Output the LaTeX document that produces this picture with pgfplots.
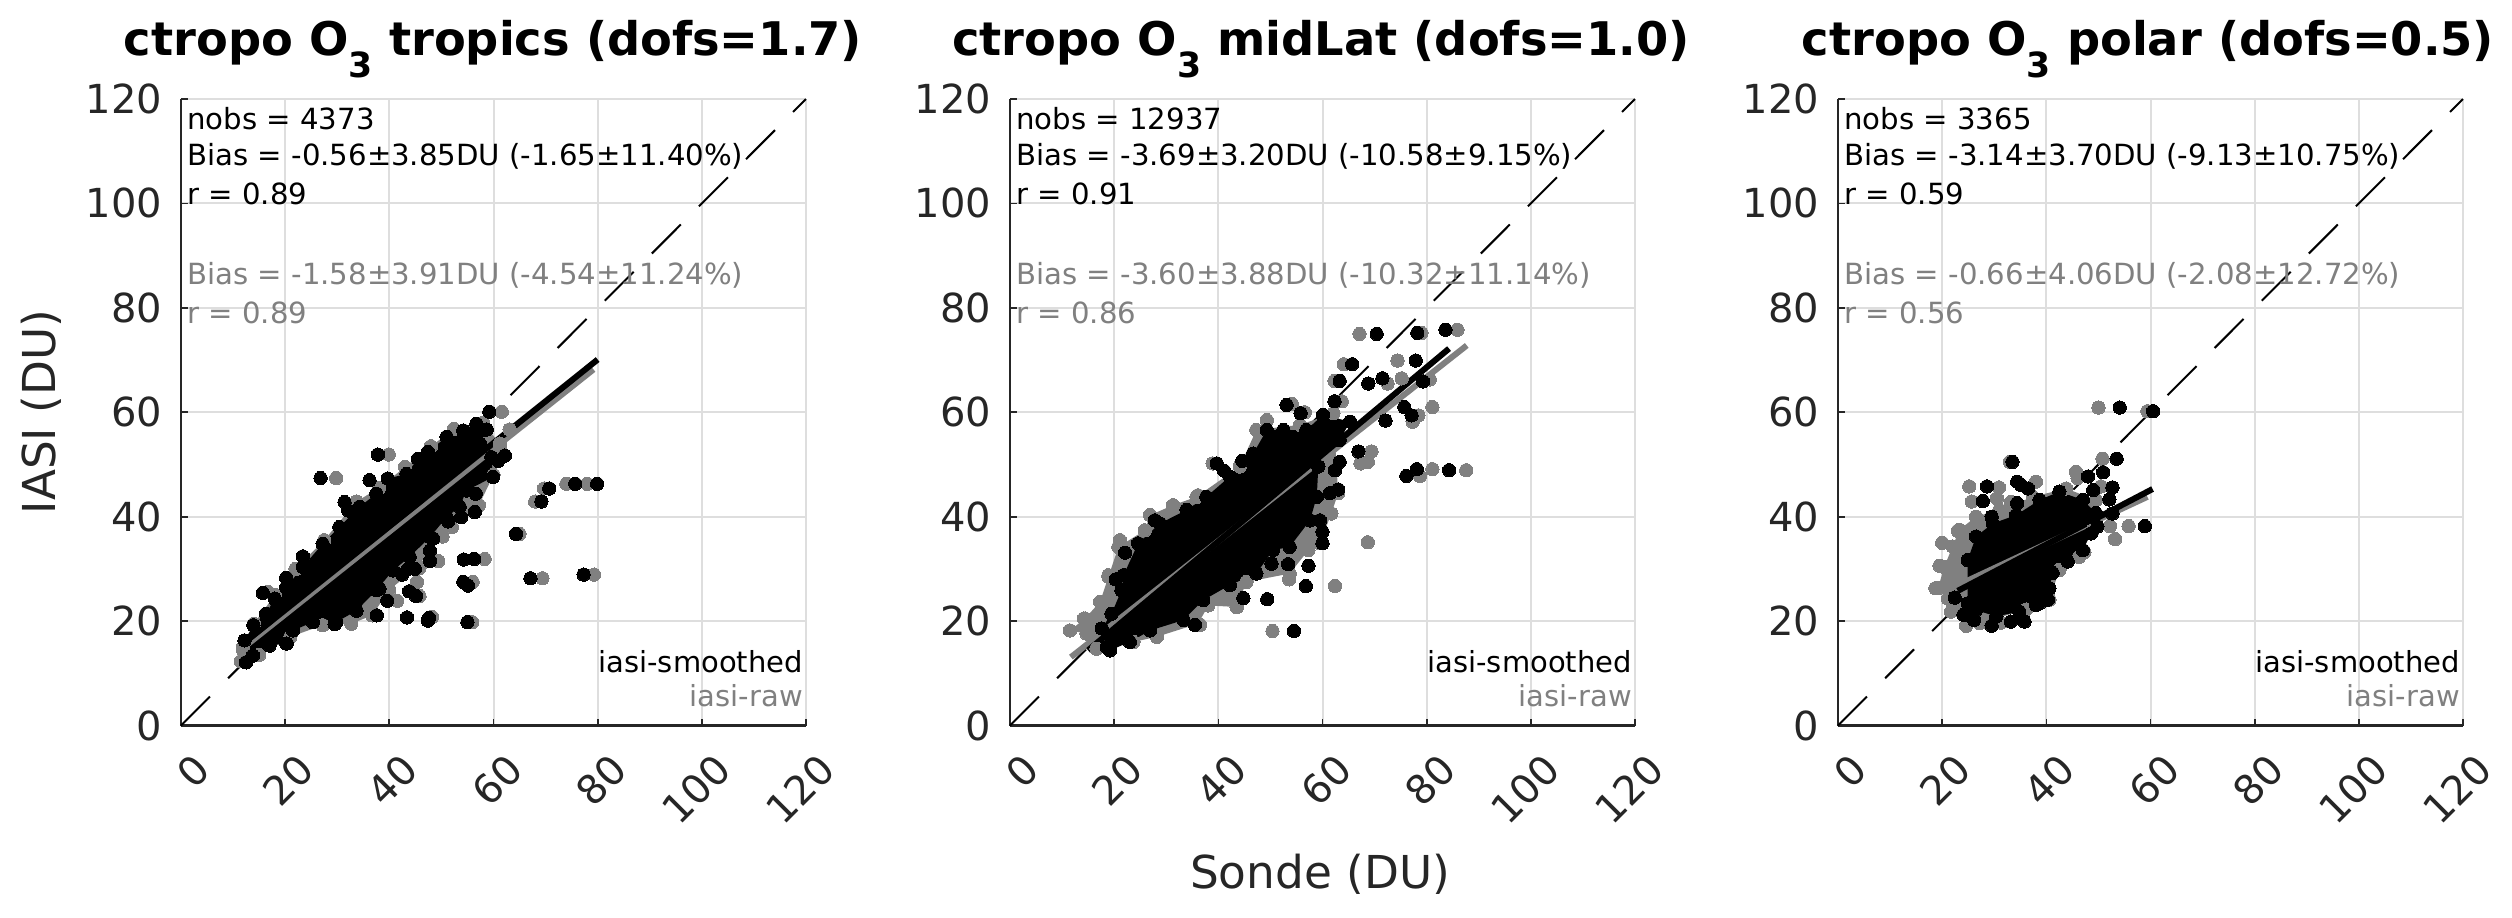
\documentclass[border=0pt]{standalone}
\usepackage{pgfplots}
\usepackage{pgfplotstable}
\usepackage{fontspec}
\setmainfont{DejaVu Sans}
\pgfplotsset{compat=1.18}

\definecolor{tickgray}{gray}{0.15}
\definecolor{rawgray}{gray}{0.5}

% ---- tropics
\pgfplotstableread{
x y
11.5 12.3
11.9 15
14 19.5
18 25
22 30
27.5 35.5
33.7 42.9
38 45.5
43 49.5
48 53.5
52.4 56.8
58 58
61.2 54
60 48
57.2 42.2
52 38
50.2 36.2
45 30
40 26
36.7 21.1
32.7 19.5
27.2 19.2
21 17
15 13.5
}\rawblobA
\pgfplotstableread{
x y
61.6 60.1
39.9 51.9
29.8 47.4
74 46.3
78 46.3
69.7 45.4
68 42.9
57.2 42.2
65 36.7
58.3 31.9
49.4 31.5
50.2 36.2
69.4 28.2
79.3 28.9
56 27.5
45.8 24.8
45.3 27.5
45.8 30.2
41.5 23.9
36.7 21.1
48.2 20.8
55.9 19.8
32.7 19.5
27.2 19.2
11.9 14.5
11.5 12.3
63.1 56.7
52.4 56.8
61.2 53.4
33.7 42.9
22.1 30
16.7 25.6
}\rawptsA
\pgfplotstableread{
x y
12.5 12.1
12.2 16.3
13.9 19.2
16.3 21.4
18 24.3
20.2 26.5
23.4 30.4
27.2 34.8
30.4 38
34.3 41.9
37.5 44.4
39.7 47.3
43.3 48.2
45.5 51.1
47.4 52.4
51 55.3
54.2 56.5
56.7 57.8
58.3 56.6
57.4 54
59.6 51.4
59.9 47.6
54.8 45
53.5 41.9
51 39.9
47.8 36.1
43.9 32.3
40.7 29.7
37.5 25.9
33.7 22
29.8 19.8
25.3 19.8
21.5 18.2
20.2 15.7
17 15.3
13.8 13.4
}\smoblobA
\pgfplotstableread{
x y
59.2 60.1
58.7 56.7
37.8 51.9
26.8 47.4
36.2 47
79.9 46.3
75.7 46.3
70.7 45.4
69.2 42.9
56.6 44.4
56.4 40.9
62.2 51.7
60.9 50.7
64.3 36.7
56.3 31.9
54.3 31.8
47.8 31.5
47.8 33.5
67.1 28.2
77.3 28.9
54.2 27.5
55.1 26.8
44.9 30
43.6 30
42.5 28.9
43.8 25.7
45.1 24.8
39.6 23.9
37.6 21.1
43.4 20.7
47.6 20.6
47.4 20.1
55 19.8
15.7 25.4
20.2 28.3
23.4 32.4
31.4 42.8
32.1 41.2
51.3 39.1
53.8 39.9
20.3 15.7
12.5 12.1
29.5 19.4
38.1 26.2
48.4 35.8
}\smoptsA

% ---- midLat
\pgfplotstableread{
x y
11.5 18.2
14.4 20.5
17.3 23.7
18.9 28.5
20.8 34.2
25.9 37.4
26.9 40.3
31.3 42.2
35.8 43.8
44.1 49.6
47.3 56.6
55.7 57.6
62.1 59.8
63 44.5
61.7 40.6
59.5 34.9
57.3 33.6
53.7 29.1
45.4 27.5
43.5 22.7
38.1 23
36.1 19.5
28.2 17
23.7 16
16.6 14.7
14.7 17.6
}\rawblobB
\pgfplotstableread{
x y
67.1 75
79 75.2
85.9 75.8
74.4 69.9
64.1 69.2
62.3 66
72.5 65.5
75.2 66.5
80.6 66.3
63.7 62.1
54.1 61.6
56.6 60
81.1 61
78.4 59.4
77.3 58.2
69.4 52.5
67.3 50.2
68.7 50.5
78.7 47.8
81.1 49.1
87.6 48.9
63 45.2
68.7 35.1
62.4 26.7
50.4 18.1
43.6 22.7
53.6 28
36.5 19.3
47.3 56.6
49.3 58.5
38.9 50.2
36.1 44.1
26.9 40.3
21.1 35.5
18.9 28.8
11.5 18.2
14.2 20.5
16.6 14.7
}\rawptsB
\pgfplotstableread{
x y
18.6 15
17.6 18.6
19.5 21.4
21.4 25.9
21.8 28.8
24.6 34.9
28.8 38.7
33.9 41.3
37.7 43.8
42.2 47.7
46.7 52.1
49.3 56.6
52.5 56.6
56.9 56.6
60.1 59.5
65.3 58.2
63.3 54.7
59.2 49.6
58.9 43.8
57.6 39.3
53.7 34.2
50.5 33.6
47.3 29.1
42.2 26.9
37.1 24
33.3 20.2
26.9 18.2
23 16
19.2 14.4
}\smoblobB
\pgfplotstableread{
x y
70.4 75
78.2 75.2
83.6 75.8
77.9 69.9
65.7 69.2
63.3 66
68.8 65.5
71.5 66.5
79.3 65.9
62.3 62.1
53.1 61.4
55.8 59.8
75.7 61
77.1 59.4
72.1 58.4
66.9 52.5
63.3 50.5
62.4 48.9
78.1 49.1
76.1 47.8
84.3 48.9
63 45.2
61.4 44.5
59.5 39.3
60 37.1
60 34.9
57.3 30.6
56.8 26.7
53.4 30.9
50.2 31
49.4 24.2
44.8 24.4
54.5 18.1
35.5 19.3
39.7 50.2
41.1 48.8
44.6 50.7
27.8 39.3
22.1 33.1
20.3 28
}\smoptsB

% ---- polar
\pgfplotstableread{
x y
19.2 26.3
20.4 30.4
22 34.3
23.3 37.5
26.5 40
31 41.3
37.4 43.8
43.8 45.4
49.5 43.2
48.9 37.4
46.3 32.3
42.5 29.8
40.6 24.1
36.1 22.2
27.2 19.6
22.1 22.1
21.1 24.3
}\rawblobC
\pgfplotstableread{
x y
50 60.9
59.4 60.2
33 50.5
50.8 51.1
45.7 48.6
46 47.4
38 46.7
25.2 45.8
30.9 45.6
30.5 43.5
25.7 42.9
33.2 42.8
50.5 45.8
55.8 38.2
52.2 38.2
53.2 35.7
23 37.3
20 35
19.5 30.6
18.7 26.3
21.7 21.8
24.6 19.1
31.3 19.7
47.3 33.2
42.5 29.8
}\rawptsC
\pgfplotstableread{
x y
24.9 23.4
24.9 31.7
26.5 36.2
29.7 38.7
34.2 40.3
38.7 43.2
42.5 44.8
47 43.2
49.5 40.7
48.6 36.8
47 33.6
44.1 31.4
41.2 29.2
40.6 26.3
38.7 23.4
34.8 21.8
30.4 20.9
26.5 22.1
}\smoblobC
\pgfplotstableread{
x y
54.1 60.9
60.5 60.2
33.5 50.5
53.5 51.1
50.9 48.5
48 47.7
34.4 46.7
35.1 46.1
36.5 45.4
28.6 45.8
52.7 45.6
49 45.1
52.1 43.3
27.8 43
34.4 42.6
52.7 40.6
58.9 38.2
49.8 38.1
29.5 40
22.4 24.5
24.1 21.2
26.1 20.2
29.5 19.1
33.2 19.9
35.8 19.9
40.3 24.1
38 23.1
}\smoptsC

\pgfplotsset{
  panel/.style={
    scale only axis, width=187.5pt, height=187.95pt,
    anchor=south west,
    xmin=0, xmax=120, ymin=0, ymax=120,
    xtick={0,20,...,120}, ytick={0,20,...,120},
    axis x line*=bottom, axis y line*=left,
    axis line style={-, tickgray, line width=0.65pt},
    tick align=inside, major tick length=2pt,
    every tick/.style={tickgray, line width=0.5pt},
    grid=major, grid style={black!13, line width=0.6pt},
    clip=false,
    /pgf/number format/assume math mode=true,
    ticklabel style={font=\fontsize{12}{12}\selectfont, text=tickgray, inner sep=0pt},
    yticklabel style={xshift=-5.5pt},
    xticklabel style={rotate=45, anchor=east, xshift=-3pt, yshift=-12.2pt},
  },
  rawblob/.style={fill=rawgray, draw=none, mark=none, forget plot},
  smoblob/.style={fill=black, draw=none, mark=none, forget plot},
  rawpts/.style={only marks, mark=*, mark size=2pt, color=rawgray, mark options={fill=rawgray, draw=rawgray, line width=0pt}, forget plot},
  smopts/.style={only marks, mark=*, mark size=2pt, color=black, mark options={fill=black, draw=black, line width=0pt}, forget plot},
  oneone/.style={black, line width=0.6pt, dash pattern=on 12.3pt off 7.7pt, mark=none, forget plot},
  rawfit/.style={rawgray, line width=1.8pt, mark=none, forget plot},
  smofit/.style={black, line width=1.8pt, mark=none, forget plot},
}
\tikzset{
  stat/.style={anchor=west, inner sep=0pt, font=\fontsize{8.75}{8.75}\selectfont},
  tag/.style={anchor=east, inner sep=0pt, font=\fontsize{8.7}{8.7}\selectfont},
  ttl/.style={anchor=base, inner sep=0pt, font=\fontsize{13.9}{13.9}\selectfont\bfseries},
  axl/.style={inner sep=0pt, text=tickgray, font=\fontsize{13.6}{13.6}\selectfont},
}
\newcommand{\subthree}{\raisebox{-6.6pt}{\fontsize{10.4}{10.4}\selectfont 3}}

\begin{document}
\begin{tikzpicture}[x=0.3pt, y=-0.3pt]
\path[use as bounding box] (0,0) rectangle (2512,917);

\node[ttl] at (493,55) {ctropo O\subthree{} tropics (dofs=1.7)};
\node[ttl] at (1321,55) {ctropo O\subthree{} midLat (dofs=1.0)};
\node[ttl] at (2148,55) {ctropo O\subthree{} polar (dofs=0.5)};
\node[axl, rotate=90] at (41,412) {IASI (DU)};
\node[axl] at (1320,874) {Sonde (DU)};

\begin{axis}[panel, at={(54.3pt,-217.65pt)}]
  \addplot[oneone] coordinates {(0,0) (120,120)};
  \addplot[rawblob] table {\rawblobA} -- cycle;
  \addplot[rawpts] table {\rawblobA};
  \addplot[rawpts] table {\rawptsA};
  \addplot[smoblob] table {\smoblobA} -- cycle;
  \addplot[smopts] table {\smoblobA};
  \addplot[smopts] table {\smoptsA};
  \addplot[rawfit] coordinates {(12.2,15.1) (79.2,68.2)};
  \addplot[smofit] coordinates {(12.2,15.9) (80,70.1)};
  \node[stat] at (axis cs:1.1,116.2) {nobs = 4373};
  \node[stat] at (axis cs:1.1,109.1) {Bias = -0.56±3.85DU (-1.65±11.40\%)};
  \node[stat] at (axis cs:1.1,101.9) {r = 0.89};
  \node[stat, text=rawgray] at (axis cs:1.1,86.3) {Bias = -1.58±3.91DU (-4.54±11.24\%)};
  \node[stat, text=rawgray] at (axis cs:1.1,79) {r = 0.89};
  \node[tag] at (axis cs:119.5,12.2) {iasi-smoothed};
  \node[tag, text=rawgray] at (axis cs:119.5,5.8) {iasi-raw};
\end{axis}

\begin{axis}[panel, at={(303pt,-217.65pt)}]
  \addplot[oneone] coordinates {(0,0) (120,120)};
  \addplot[rawblob] table {\rawblobB} -- cycle;
  \addplot[rawpts] table {\rawblobB};
  \addplot[rawpts] table {\rawptsB};
  \addplot[smoblob] table {\smoblobB} -- cycle;
  \addplot[smopts] table {\smoblobB};
  \addplot[smopts] table {\smoptsB};
  \addplot[rawfit] coordinates {(11.7,13.1) (87.7,72.8)};
  \addplot[smofit] coordinates {(15,14.4) (84.3,72.2)};
  \node[stat] at (axis cs:1.1,116.2) {nobs = 12937};
  \node[stat] at (axis cs:1.1,109.1) {Bias = -3.69±3.20DU (-10.58±9.15\%)};
  \node[stat] at (axis cs:1.1,101.9) {r = 0.91};
  \node[stat, text=rawgray] at (axis cs:1.1,86.3) {Bias = -3.60±3.88DU (-10.32±11.14\%)};
  \node[stat, text=rawgray] at (axis cs:1.1,79) {r = 0.86};
  \node[tag] at (axis cs:119.5,12.2) {iasi-smoothed};
  \node[tag, text=rawgray] at (axis cs:119.5,5.8) {iasi-raw};
\end{axis}

\begin{axis}[panel, at={(551.4pt,-217.65pt)}]
  \addplot[oneone] coordinates {(0,0) (120,120)};
  \addplot[rawblob] table {\rawblobC} -- cycle;
  \addplot[rawpts] table {\rawblobC};
  \addplot[rawpts] table {\rawptsC};
  \addplot[smoblob] table {\smoblobC} -- cycle;
  \addplot[smopts] table {\smoblobC};
  \addplot[smopts] table {\smoptsC};
  \addplot[rawfit] coordinates {(22.4,26.6) (59.4,43.8)};
  \addplot[smofit] coordinates {(23,25.8) (60.4,45.3)};
  \node[stat] at (axis cs:1.1,116.2) {nobs = 3365};
  \node[stat] at (axis cs:1.1,109.1) {Bias = -3.14±3.70DU (-9.13±10.75\%)};
  \node[stat] at (axis cs:1.1,101.9) {r = 0.59};
  \node[stat, text=rawgray] at (axis cs:1.1,86.3) {Bias = -0.66±4.06DU (-2.08±12.72\%)};
  \node[stat, text=rawgray] at (axis cs:1.1,79) {r = 0.56};
  \node[tag] at (axis cs:119.5,12.2) {iasi-smoothed};
  \node[tag, text=rawgray] at (axis cs:119.5,5.8) {iasi-raw};
\end{axis}
\end{tikzpicture}
\end{document}
